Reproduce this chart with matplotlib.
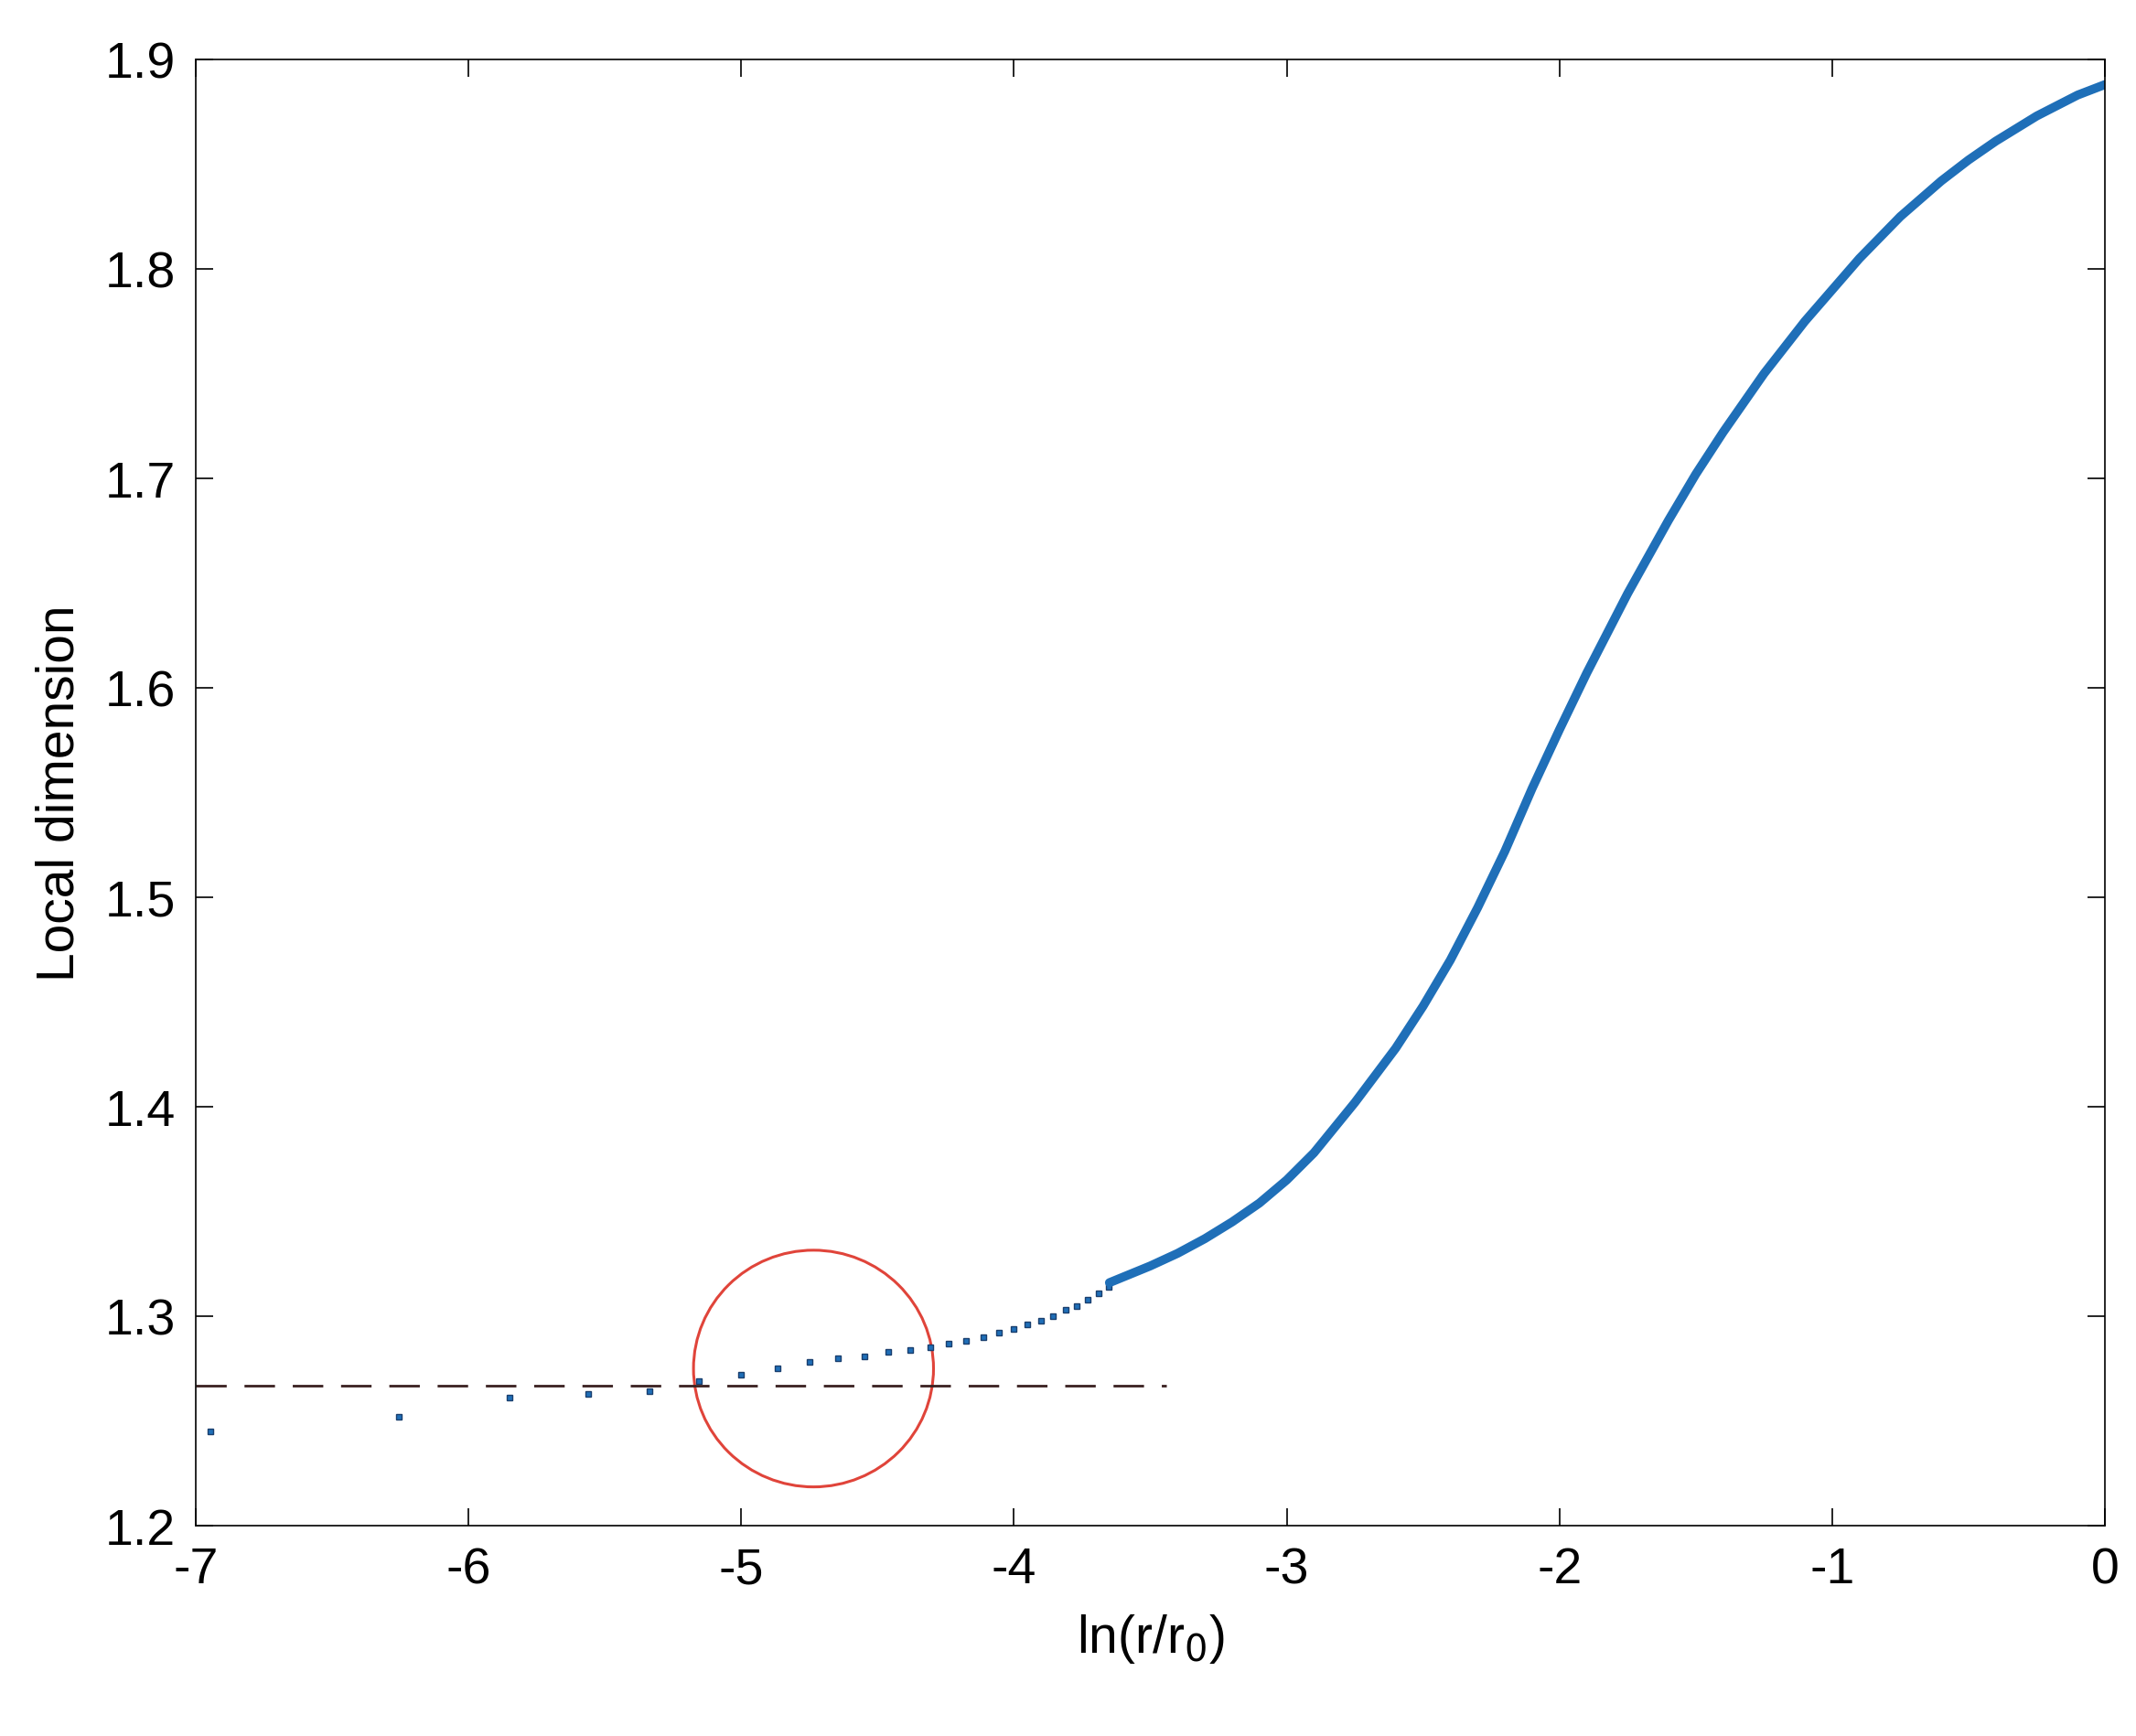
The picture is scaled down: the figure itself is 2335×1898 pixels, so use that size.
import numpy as np
import matplotlib
matplotlib.use("Agg")
import matplotlib.pyplot as plt
from matplotlib.patches import Ellipse

plt.rcParams['font.family'] = ['Liberation Sans', 'DejaVu Sans']
plt.rcParams['axes.unicode_minus'] = False

# sparse points at small r (x = ln(k/N))
dot_k = list(range(1, 28))
dot_y = [1.245, 1.252, 1.261, 1.263, 1.264, 1.269, 1.272, 1.275, 1.278,
         1.280, 1.281, 1.283, 1.284, 1.285, 1.287, 1.288, 1.290, 1.292,
         1.294, 1.296, 1.298, 1.300, 1.303, 1.305, 1.308, 1.311, 1.314]
N_pts = 1040

# continuous part of the curve
curve_x = [-3.65, -3.5, -3.4, -3.3, -3.2, -3.1, -3.0, -2.9, -2.75, -2.6, -2.5, -2.4,
           -2.3, -2.2, -2.1, -2.0, -1.9, -1.75, -1.6, -1.5, -1.4, -1.25, -1.1,
           -1.0, -0.9, -0.75, -0.6, -0.5, -0.4, -0.25, -0.1, 0.0]
curve_y = [1.316, 1.324, 1.330, 1.337, 1.345, 1.354, 1.365, 1.378, 1.402, 1.428,
           1.448, 1.470, 1.495, 1.522, 1.552, 1.580, 1.607, 1.645, 1.680, 1.702,
           1.722, 1.750, 1.775, 1.790, 1.805, 1.825, 1.842, 1.852, 1.861, 1.873,
           1.883, 1.888]

plateau = 1.267
plateau_x = [-7.0, -3.44]
circle_c = (-4.735, 1.275)

blue = '#1f6fb8'
fig = plt.figure(figsize=(23.35, 18.99), dpi=100)
ax = fig.add_axes([214/2335, 1 - 1669/1899, 2087/2335, 1603/1899])

dot_x = np.log(np.array(dot_k) / N_pts)
ax.plot(dot_x, dot_y, 's', color=blue, markersize=5, markeredgecolor='#1a3f6e')
ax.plot(curve_x, curve_y, '-', color=blue, linewidth=7, solid_capstyle='round')
ax.plot(plateau_x, [plateau, plateau], '--', color='#3a2020', linewidth=2, dashes=(12, 7))
ax.add_patch(Ellipse(circle_c, 0.88, 0.113, fill=False, edgecolor='#e0443a', linewidth=2.2))

ax.set_xlim(-7, 0)
ax.set_ylim(1.2, 1.9)
ax.set_xticks(range(-7, 1))
ax.set_yticks(np.arange(1.2, 1.91, 0.1))
ax.set_yticklabels(['1.2', '1.3', '1.4', '1.5', '1.6', '1.7', '1.8', '1.9'])
ax.tick_params(direction='in', length=14, width=1.2, labelsize=40, top=True, right=True, pad=16)
for s in ax.spines.values():
    s.set_linewidth(1.2)
ax.set_xlabel(r'ln(r/r$_0$)', fontsize=41, labelpad=14)
ax.set_ylabel('Local dimension', fontsize=41, labelpad=16)

fig.savefig('out.png', dpi=100)
